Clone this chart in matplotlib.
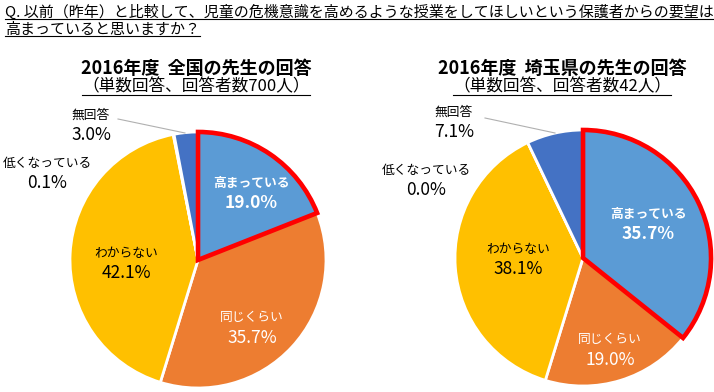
import matplotlib
matplotlib.use("Agg")
import matplotlib.pyplot as plt

plt.rcParams["font.family"] = ["Noto Sans CJK JP", "DejaVu Sans"]

# -- Data ---------------------------------------------------------------
categories = ["高まっている", "同じくらい", "わからない", "低くなっている", "無回答"]
national_pct = [19.0, 35.7, 42.1, 0.1, 3.0]
saitama_pct = [35.7, 19.0, 38.1, 0.0, 7.1]

question = ["Q. 以前（昨年）と比較して、児童の危機意識を高めるような授業をしてほしいという保護者からの要望は",
            "高まっていると思いますか？"]
titles = ["2016年度  全国の先生の回答", "2016年度  埼玉県の先生の回答"]
subtitles = ["（単数回答、回答者数700人）", "（単数回答、回答者数42人）"]

# -- Style --------------------------------------------------------------
W, H = 714, 392
colors = ["#5B9BD5", "#ED7D31", "#FFC000", "#A5A5A5", "#4472C4"]
text_colors = ["white", "white", "black", "black", "black"]
text_weights = ["bold", "normal", "normal", "normal", "normal"]


def Y(y):
    """pixel-from-top -> data y"""
    return H - y


fig = plt.figure(figsize=(W / 100, H / 100), dpi=100, facecolor="white")
ax = fig.add_axes([0, 0, 1, 1])

# layout for each pie: centre, radius, label positions (px from top), leader line
layouts = [
    dict(center=(198, 260), radius=128, title_x=196,
         labels=[(251, 193), (252, 328), (126, 263), (47, 173), (91, 125)],
         leader=[(118, 119), (185, 133)]),
    dict(center=(583, 258), radius=128, title_x=562,
         labels=[(648, 224), (610, 350), (518, 259), (426, 180), (454, 122)],
         leader=[(485, 118), (555, 133)]),
]

subtitle_texts = []
for vals, lay, title, sub in zip([national_pct, saitama_pct], layouts, titles, subtitles):
    cx, cy = lay["center"]
    wedges, _ = ax.pie(vals, colors=colors, startangle=90, counterclock=False,
                       center=(cx, Y(cy)), radius=lay["radius"], frame=True,
                       explode=[0.05, 0, 0, 0, 0],
                       wedgeprops=dict(edgecolor="white", linewidth=2))
    # red outline on the highlighted slice
    wedges[0].set_edgecolor("#FF0000")
    wedges[0].set_linewidth(3.3)
    wedges[0].set_zorder(5)

    for cat, v, (lx, ly), tc, tw in zip(categories, vals, lay["labels"], text_colors, text_weights):
        ax.text(lx, Y(ly - 10), cat, ha="center", va="center",
                color=tc, fontsize=9.2, fontweight=tw, zorder=6)
        ax.text(lx, Y(ly + 10), f"{v:.1f}%", ha="center", va="center",
                color=tc, fontsize=12.5, fontweight=tw, zorder=6)

    (x0, y0), (x1, y1) = lay["leader"]
    ax.plot([x0, x1], [Y(y0), Y(y1)], color="#B0B0B0", linewidth=0.8, zorder=6)

    ax.text(lay["title_x"], Y(68), title, ha="center", va="center",
            fontsize=13, fontweight="bold")
    subtitle_texts.append(ax.text(lay["title_x"], Y(87), sub, ha="center",
                                  va="center", fontsize=12))

# question header
q_texts = [ax.text(5, Y(y), line, ha="left", va="center", fontsize=10.8)
           for line, y in zip(question, [12, 30])]

ax.set_xlim(0, W)
ax.set_ylim(0, H)
ax.set_aspect("equal", adjustable="box")
ax.axis("off")

# underlines under header and subtitles
renderer = fig.canvas.get_renderer()
for t in q_texts + subtitle_texts:
    bb = t.get_window_extent(renderer)
    ax.plot([bb.x0, bb.x1], [bb.y0 + 1, bb.y0 + 1], color="black", linewidth=0.8)

fig.savefig("out.png", dpi=100, facecolor="white")
